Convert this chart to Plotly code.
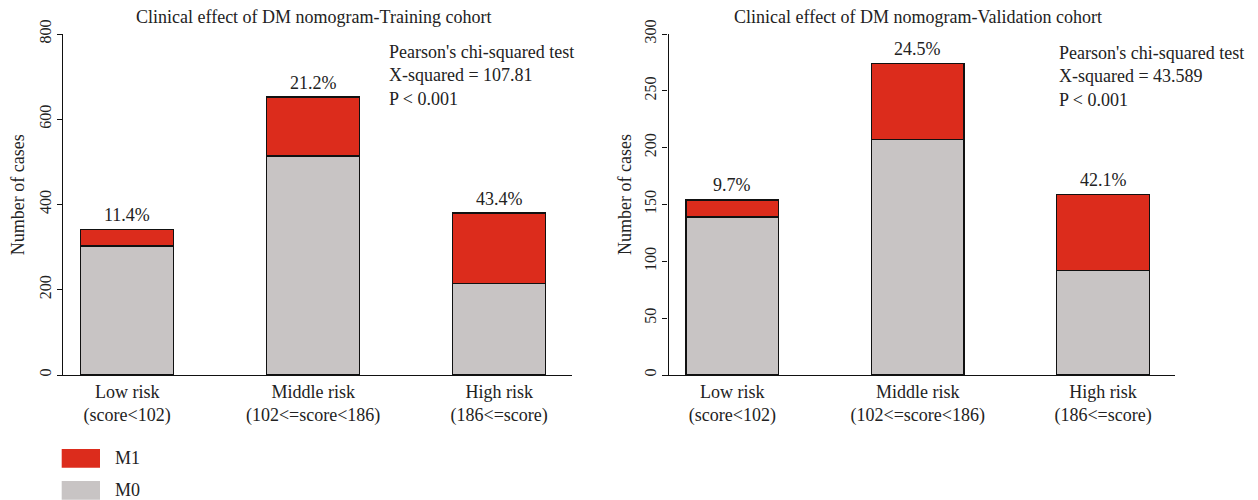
import plotly.graph_objects as go

# Risk groups and stacked counts for each cohort
risk_groups = ["Low risk<br>(score&lt;102)",
               "Middle risk<br>(102&lt;=score&lt;186)",
               "High risk<br>(186&lt;=score)"]
bar_pos = [1.5, 3.5, 5.5]

train_m0 = [303, 514, 215]
train_m1 = [39, 138, 165]
valid_m0 = [139, 207, 92]
valid_m1 = [15, 67, 67]

series_names = ["M1", "M0"]
train_stats = ["Pearson's chi-squared test", "X-squared = 107.81", "P &lt; 0.001"]
valid_stats = ["Pearson's chi-squared test", "X-squared = 43.589", "P &lt; 0.001"]
titles = ["Clinical effect of DM nomogram-Training cohort",
          "Clinical effect of DM nomogram-Validation cohort"]

RED = "#DC2C1C"
GREY = "#C8C4C4"
EDGE = "#111111"
FONT = "Liberation Serif"
W, H = 1258, 500

fig = go.Figure()

panels = [
    dict(m0=train_m0, m1=train_m1, xa="x", ya="y", ymax=800, dtick=200,
         dom=[57.4 / W, 571.7 / W], ypos=62.1 / W,
         title_x=313.2 / W, ylab_x=18.3 / W, stats=train_stats,
         stats_x=387.3 / W, stats_y=(H - 75) / H),
    dict(m0=valid_m0, m1=valid_m1, xa="x2", ya="y2", ymax=300, dtick=50,
         dom=[662.8 / W, 1175.4 / W], ypos=667.5 / W,
         title_x=917.8 / W, ylab_x=625 / W, stats=valid_stats,
         stats_x=1057.3 / W, stats_y=(H - 76.7) / H),
]

annotations = []
for i, p in enumerate(panels):
    fig.add_trace(go.Bar(x=bar_pos, y=p["m0"], width=1, name=series_names[1],
                         marker=dict(color=GREY, line=dict(color=EDGE, width=1.3)),
                         xaxis=p["xa"], yaxis=p["ya"], showlegend=False))
    fig.add_trace(go.Bar(x=bar_pos, y=p["m1"], width=1, name=series_names[0],
                         marker=dict(color=RED, line=dict(color=EDGE, width=1.3)),
                         xaxis=p["xa"], yaxis=p["ya"], showlegend=False))
    # percentage of M1 above each bar
    for xp, a, b in zip(bar_pos, p["m0"], p["m1"]):
        tot = a + b
        annotations.append(dict(x=xp, y=tot, xref=p["xa"], yref=p["ya"],
                                text=f"{100 * b / tot:.1f}%", showarrow=False,
                                yanchor="middle", yshift=14.5,
                                font=dict(family=FONT, size=18, color="#222")))
    annotations.append(dict(x=p["title_x"], y=(H - 17) / H, xref="paper", yref="paper",
                            text=titles[i], showarrow=False, xanchor="center",
                            yanchor="middle",
                            font=dict(family=FONT, size=18, color="#222")))
    annotations.append(dict(x=p["ylab_x"], y=(H - 195) / H, xref="paper", yref="paper",
                            text="Number of cases", showarrow=False, textangle=-90,
                            xanchor="center", yanchor="middle",
                            font=dict(family=FONT, size=18, color="#222")))
    annotations.append(dict(x=p["stats_x"], y=p["stats_y"], xref="paper", yref="paper",
                            text="<br>".join(p["stats"]), showarrow=False,
                            xanchor="left", yanchor="middle", align="left",
                            font=dict(family=FONT, size=18, color="#222")))

xaxis_common = dict(range=[0.75, 6.28], tickvals=bar_pos, ticktext=risk_groups,
                    showline=True, linecolor=EDGE, linewidth=1.3, ticks="",
                    showgrid=False, zeroline=False, automargin=False,
                    tickfont=dict(family=FONT, size=18, color="#222"))
yaxis_common = dict(showline=True, linecolor=EDGE, linewidth=1.3, ticks="outside",
                    ticklen=5, tickwidth=1.3, tickcolor=EDGE, tickangle=-90,
                    showgrid=False, zeroline=False, anchor="free", automargin=False,
                    domain=[0.25, 0.932],
                    tickfont=dict(family=FONT, size=16, color="#222"))

fig.update_layout(
    barmode="stack",
    width=W, height=H,
    margin=dict(l=0, r=0, t=0, b=0, autoexpand=False),
    paper_bgcolor="white", plot_bgcolor="white",
    xaxis=dict(domain=panels[0]["dom"], anchor="y", **xaxis_common),
    xaxis2=dict(domain=panels[1]["dom"], anchor="y2", **xaxis_common),
    yaxis=dict(range=[0, 800], dtick=200, position=panels[0]["ypos"], **yaxis_common),
    yaxis2=dict(range=[0, 300], dtick=50, position=panels[1]["ypos"], **yaxis_common),
    annotations=annotations,
)

# legend drawn as coloured keys with labels at the lower left
legend_rows = [(series_names[0], RED, 449, 467.7, 458),
               (series_names[1], GREY, 481, 499.7, 490)]
for name, col, top, bot, mid in legend_rows:
    fig.add_shape(type="rect", xref="paper", yref="paper",
                  x0=61.7 / W, x1=100 / W, y0=(H - bot) / H, y1=(H - top) / H,
                  fillcolor=col, line=dict(width=0))
    fig.add_annotation(x=113 / W, y=(H - mid) / H, xref="paper", yref="paper",
                       text=name, showarrow=False, xanchor="left", yanchor="middle",
                       font=dict(family=FONT, size=18, color="#222"))

fig.write_html("out.html")
